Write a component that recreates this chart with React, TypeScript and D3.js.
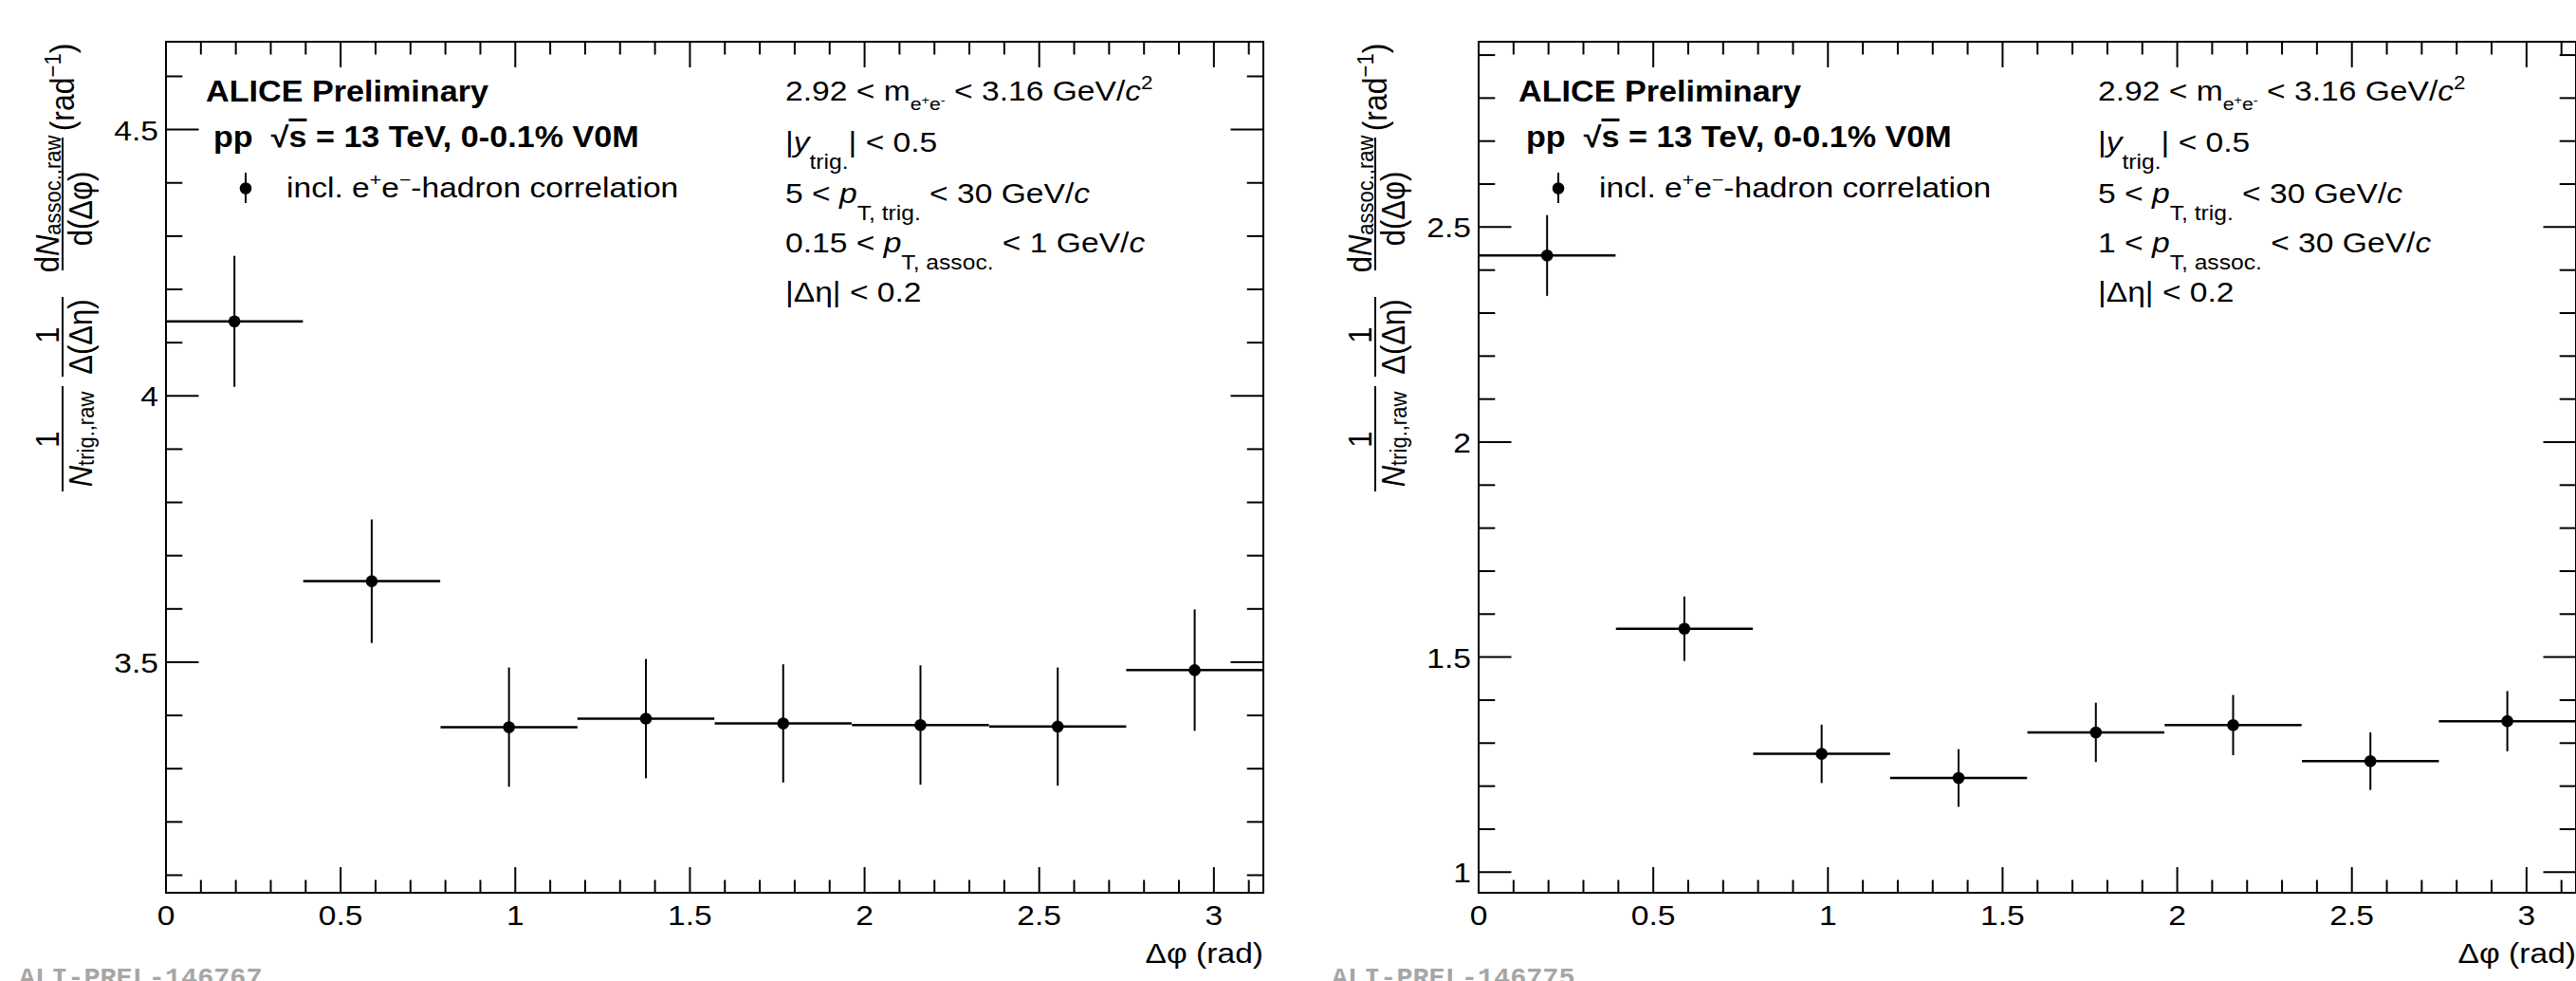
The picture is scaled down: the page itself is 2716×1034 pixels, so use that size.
import React from "react";
import * as d3 from "d3";

const W = 2716;
const H = 1034;

// bin centres in delta phi (rad), 8 bins over [0, pi]
const phiCenters = [0.196, 0.589, 0.982, 1.374, 1.767, 2.16, 2.553, 2.945];
const binHalfWidth = 0.196;

// 0.15 < pT,assoc < 1 GeV/c
const lowPtValues = [4.14, 3.652, 3.378, 3.394, 3.385, 3.382, 3.379, 3.485];
const lowPtErrors = [0.123, 0.116, 0.112, 0.112, 0.111, 0.112, 0.111, 0.114];

// 1 < pT,assoc < 30 GeV/c
const highPtValues = [2.434, 1.566, 1.275, 1.219, 1.325, 1.342, 1.258, 1.351];
const highPtErrors = [0.094, 0.075, 0.068, 0.067, 0.069, 0.07, 0.067, 0.07];

const xTickValues = [0, 0.5, 1, 1.5, 2, 2.5, 3];
const xTickLabels = ["0", "0.5", "1", "1.5", "2", "2.5", "3"];
const lowPtYTicks = [3.5, 4, 4.5];
const lowPtYLabels = ["3.5", "4", "4.5"];
const highPtYTicks = [1, 1.5, 2, 2.5];
const highPtYLabels = ["1", "1.5", "2", "2.5"];

const FONT = "'Liberation Sans', Arial, Helvetica, sans-serif";
const TOP = 44;
const BOTTOM = 941;
const PANEL_W = 1157;
const SX = 1.12; // root text comes out a bit wider than arial

type TProps = {
  x: number;
  y: number;
  size?: number;
  anchor?: "start" | "middle" | "end";
  bold?: boolean;
  children: React.ReactNode;
};

// horizontally stretched text
const T = ({ x, y, size = 30, anchor = "start", bold = false, children }: TProps) => (
  <g transform={`translate(${x},${y}) scale(${SX},1)`}>
    <text
      x={0}
      y={0}
      fontSize={size}
      textAnchor={anchor}
      fontWeight={bold ? "bold" : "normal"}
      style={{ whiteSpace: "pre" }}
    >
      {children}
    </text>
  </g>
);

const YTitle = ({ x }: { x: number }) => (
  <g transform={`translate(${x},518) rotate(-90) scale(1,${SX})`} fontSize={31} fill="#000">
    <line x1={0} x2={111} y1={0} y2={0} stroke="#000" strokeWidth={1.8} />
    <text x={55} y={-3.6} textAnchor="middle">1</text>
    <text x={55} y={27.7} textAnchor="middle">
      <tspan fontStyle="italic">N</tspan>
      <tspan fontSize={22} dy={2}>trig.,raw</tspan>
    </text>

    <line x1={121} x2={205} y1={0} y2={0} stroke="#000" strokeWidth={1.8} />
    <text x={165} y={-3.6} textAnchor="middle">1</text>
    <text x={163} y={27.7} textAnchor="middle">Δ(Δη)</text>

    <line x1={233} x2={373} y1={0} y2={0} stroke="#000" strokeWidth={1.8} />
    <text x={303} y={-3.6} textAnchor="middle">
      <tspan>d</tspan>
      <tspan fontStyle="italic">N</tspan>
      <tspan fontSize={22} dy={2}>assoc.,raw</tspan>
    </text>
    <text x={298} y={27.7} textAnchor="middle">d(Δφ)</text>

    <text x={426} y={10.3} textAnchor="middle" fontSize={32}>
      <tspan>(rad</tspan>
      <tspan fontSize={22} dy={-12}>−1</tspan>
      <tspan dy={12}>)</tspan>
    </text>
  </g>
);

type PanelProps = {
  left: number;
  values: number[];
  errors: number[];
  yDomain: [number, number];
  yTicks: number[];
  yLabels: string[];
  assocLabel: React.ReactNode;
  prelimId: string;
};

const Panel = ({ left, values, errors, yDomain, yTicks, yLabels, assocLabel, prelimId }: PanelProps) => {
  const right = left + PANEL_W;
  const x = d3.scaleLinear().domain([0, Math.PI]).range([left, right]);
  const y = d3.scaleLinear().domain(yDomain).range([BOTTOM, TOP]);

  const xMinor = d3.range(1, 32).map((i) => i / 10);
  const yMinor = d3
    .range(Math.ceil(yDomain[0] * 10), Math.floor(yDomain[1] * 10) + 1)
    .map((i) => i / 10);

  const tx = left + 653;

  return (
    <g fontFamily={FONT}>
      {/* frame */}
      <rect x={left} y={TOP} width={PANEL_W} height={BOTTOM - TOP} fill="none" stroke="#000" strokeWidth={2} />

      {/* x ticks, bottom and top */}
      {xMinor.map((v) => {
        const major = Math.abs(v * 2 - Math.round(v * 2)) < 1e-6;
        const len = major ? 27 : 13.5;
        return (
          <g key={"xt" + v}>
            <line x1={x(v)} x2={x(v)} y1={BOTTOM} y2={BOTTOM - len} stroke="#000" strokeWidth={2} />
            <line x1={x(v)} x2={x(v)} y1={TOP} y2={TOP + len} stroke="#000" strokeWidth={2} />
          </g>
        );
      })}
      {xTickValues.map((v, i) => (
        <T key={"xl" + v} x={x(v)} y={975} anchor="middle">
          {xTickLabels[i]}
        </T>
      ))}
      <T x={right} y={1015} anchor="end">Δφ (rad)</T>

      {/* y ticks, left and right */}
      {yMinor.map((v) => {
        const major = yTicks.some((t) => Math.abs(t - v) < 1e-6);
        const len = major ? 34.5 : 17.3;
        return (
          <g key={"yt" + v}>
            <line x1={left} x2={left + len} y1={y(v)} y2={y(v)} stroke="#000" strokeWidth={2} />
            <line x1={right} x2={right - len} y1={y(v)} y2={y(v)} stroke="#000" strokeWidth={2} />
          </g>
        );
      })}
      {yTicks.map((v, i) => (
        <T key={"yl" + v} x={left - 8} y={y(v) + 11} anchor="end">
          {yLabels[i]}
        </T>
      ))}

      <YTitle x={left - 109} />

      {/* data points with stat. errors */}
      {values.map((v, i) => (
        <g key={"pt" + i}>
          <line
            x1={x(phiCenters[i] - binHalfWidth)}
            x2={x(Math.min(Math.PI, phiCenters[i] + binHalfWidth))}
            y1={y(v)}
            y2={y(v)}
            stroke="#000"
            strokeWidth={2.5}
          />
          <line
            x1={x(phiCenters[i])}
            x2={x(phiCenters[i])}
            y1={y(v - errors[i])}
            y2={y(v + errors[i])}
            stroke="#000"
            strokeWidth={2}
          />
          <circle cx={x(phiCenters[i])} cy={y(v)} r={6.3} fill="#000" />
        </g>
      ))}

      {/* labels */}
      <T x={left + 42} y={107} size={30.5} bold>ALICE Preliminary</T>
      <T x={left + 50} y={155} size={30.5} bold>
        {"pp  √"}
        <tspan textDecoration="overline">s</tspan>
        {" = 13 TeV, 0-0.1% V0M"}
      </T>

      <line x1={left + 84} x2={left + 84} y1={182} y2={214} stroke="#000" strokeWidth={2} />
      <circle cx={left + 84} cy={198.5} r={6.3} fill="#000" />
      <T x={left + 127} y={208}>
        <tspan>incl. e</tspan>
        <tspan fontSize={19} dy={-12}>+</tspan>
        <tspan dy={12}>e</tspan>
        <tspan fontSize={19} dy={-12}>−</tspan>
        <tspan dy={12}>-hadron correlation</tspan>
      </T>

      <T x={tx} y={106}>
        <tspan>2.92 &lt; m</tspan>
        <tspan fontSize={19} dy={10}>e</tspan>
        <tspan fontSize={13} dy={-6}>+</tspan>
        <tspan fontSize={19} dy={6}>e</tspan>
        <tspan fontSize={13} dy={-6}>-</tspan>
        <tspan dy={-4}> &lt; 3.16 GeV/</tspan>
        <tspan fontStyle="italic">c</tspan>
        <tspan fontSize={20} dy={-12}>2</tspan>
      </T>
      <T x={tx} y={160}>
        <tspan>|</tspan>
        <tspan fontStyle="italic">y</tspan>
        <tspan fontSize={22} dy={18}>trig.</tspan>
        <tspan dy={-18}>| &lt; 0.5</tspan>
      </T>
      <T x={tx} y={214}>
        <tspan>5 &lt; </tspan>
        <tspan fontStyle="italic">p</tspan>
        <tspan fontSize={22} dy={18}>T, trig.</tspan>
        <tspan dy={-18}> &lt; 30 GeV/</tspan>
        <tspan fontStyle="italic">c</tspan>
      </T>
      <T x={tx} y={266}>{assocLabel}</T>
      <T x={tx} y={318}>|Δη| &lt; 0.2</T>

      <text
        x={left - 155}
        y={1039}
        fontSize={28.5}
        fontWeight="bold"
        fontFamily="'Liberation Mono', 'Courier New', monospace"
        fill="#a6a6a6"
      >
        {prelimId}
      </text>
    </g>
  );
};

const assocLow = (
  <>
    <tspan>0.15 &lt; </tspan>
    <tspan fontStyle="italic">p</tspan>
    <tspan fontSize={22} dy={18}>T, assoc.</tspan>
    <tspan dy={-18}> &lt; 1 GeV/</tspan>
    <tspan fontStyle="italic">c</tspan>
  </>
);

const assocHigh = (
  <>
    <tspan>1 &lt; </tspan>
    <tspan fontStyle="italic">p</tspan>
    <tspan fontSize={22} dy={18}>T, assoc.</tspan>
    <tspan dy={-18}> &lt; 30 GeV/</tspan>
    <tspan fontStyle="italic">c</tspan>
  </>
);

const App = () => (
  <svg
    width={W}
    height={H}
    style={{ position: "absolute", left: 0, top: 0, background: "#fff" }}
  >
    <rect width={W} height={H} fill="#fff" />
    <Panel
      left={175}
      values={lowPtValues}
      errors={lowPtErrors}
      yDomain={[3.067, 4.665]}
      yTicks={lowPtYTicks}
      yLabels={lowPtYLabels}
      assocLabel={assocLow}
      prelimId="ALI-PREL-146767"
    />
    <Panel
      left={1559}
      values={highPtValues}
      errors={highPtErrors}
      yDomain={[0.952, 2.931]}
      yTicks={highPtYTicks}
      yLabels={highPtYLabels}
      assocLabel={assocHigh}
      prelimId="ALI-PREL-146775"
    />
  </svg>
);

export default App;
